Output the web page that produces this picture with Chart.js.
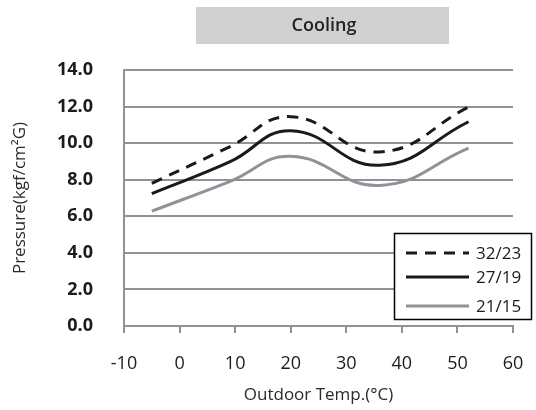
<!DOCTYPE html>
<html>
<head>
<meta charset="utf-8">
<script src="https://cdn.jsdelivr.net/npm/chart.js@4.4.1/dist/chart.umd.min.js"></script>
<style>
  html, body { margin: 0; padding: 0; background: #fff; }
  #wrap { width: 536px; height: 410px; }
</style>
</head>
<body>
<div id="wrap"><canvas id="coolingChart" width="536" height="410"></canvas></div>
<script>
// Datos (temperatura exterior en °C, presión en kgf/cm²G)
const tempPoints = [-5, 9, 20, 36, 52];
const press3223 = [7.8, 9.8, 11.45, 9.52, 11.98];
const press2719 = [7.24, 8.97, 10.68, 8.79, 11.17];
const press2115 = [6.28, 7.9, 9.28, 7.69, 9.73];
const seriesNames = ['32/23', '27/19', '21/15'];
const xTicks = [-10, 0, 10, 20, 30, 40, 50, 60];
const yTicks = [0, 2, 4, 6, 8, 10, 12, 14];

const FONT = "'Open Sans', 'Noto Sans', sans-serif";
const GRID = '#8d9398';
const INK = '#1c1c1c';

function toPoints(values) {
    return tempPoints.map((t, i) => ({ x: t, y: values[i] }));
}

// Caja gris del título y leyenda con borde, dibujadas a mano
const decorPlugin = {
    id: 'decor',
    afterDraw(chart) {
        const c = chart.ctx;
        c.save();
        // título
        c.fillStyle = '#d1d1d1';
        c.fillRect(196, 7, 253, 37);
        c.fillStyle = '#222';
        c.font = `600 18px ${FONT}`;
        c.textAlign = 'center';
        c.textBaseline = 'middle';
        c.fillText('Cooling', 324, 26);

        // leyenda
        c.fillStyle = '#fff';
        c.fillRect(394, 233, 138, 87);
        c.strokeStyle = '#000';
        c.lineWidth = 1.5;
        c.strokeRect(394.5, 233.5, 137, 86);
        const rows = [253, 277, 306];
        chart.data.datasets.forEach((ds, i) => {
            c.beginPath();
            c.strokeStyle = ds.borderColor;
            c.lineWidth = ds.borderWidth;
            c.setLineDash(ds.borderDash || []);
            c.moveTo(406, rows[i]);
            c.lineTo(469, rows[i]);
            c.stroke();
            c.setLineDash([]);
            c.fillStyle = INK;
            c.font = `17px ${FONT}`;
            c.textAlign = 'left';
            c.textBaseline = 'middle';
            c.fillText(ds.label, 476, rows[i] + 1);
        });
        c.restore();
    }
};

new Chart(document.getElementById('coolingChart'), {
    type: 'scatter',
    data: {
        datasets: [
            {
                label: seriesNames[0],
                data: toPoints(press3223),
                borderColor: '#1a1a1a',
                borderWidth: 3,
                borderDash: [11, 8]
            },
            {
                label: seriesNames[1],
                data: toPoints(press2719),
                borderColor: '#1a1a1a',
                borderWidth: 3
            },
            {
                label: seriesNames[2],
                data: toPoints(press2115),
                borderColor: '#8e9397',
                borderWidth: 3
            }
        ]
    },
    options: {
        responsive: false,
        animation: false,
        showLine: true,
        layout: { padding: { left: 0, top: 70, right: 23, bottom: 0 } },
        elements: {
            point: { radius: 0, hoverRadius: 0 },
            line: { tension: 0.45 }
        },
        plugins: {
            legend: { display: false },
            tooltip: { enabled: false }
        },
        scales: {
            x: {
                type: 'linear',
                min: -10,
                max: 60,
                afterBuildTicks: s => { s.ticks = xTicks.map(v => ({ value: v })); },
                // altura fija y sin margen extra por las etiquetas de los extremos
                afterFit: s => { s.height = 84; s.paddingLeft = 0; s.paddingRight = 0; },
                grid: { drawOnChartArea: false, drawTicks: true, tickLength: 7, color: GRID, lineWidth: 2 },
                border: { color: GRID, width: 2 },
                ticks: { color: INK, font: { family: FONT, size: 18 }, padding: 20, maxRotation: 0 },
                title: {
                    display: true,
                    text: 'Outdoor Temp.(°C)',
                    color: '#2a2a2a',
                    font: { family: FONT, size: 17 },
                    padding: { bottom: 5 }
                }
            },
            y: {
                min: 0,
                max: 14,
                afterBuildTicks: s => { s.ticks = yTicks.map(v => ({ value: v })); },
                afterFit: s => { s.width = 124; },
                grid: { drawTicks: false, color: GRID, lineWidth: 2 },
                border: { color: GRID, width: 2 },
                ticks: {
                    color: INK,
                    font: { family: FONT, size: 18, weight: 'bold' },
                    padding: 31,
                    callback: v => v.toFixed(1)
                },
                title: {
                    display: true,
                    text: 'Pressure(kgf/cm²G)',
                    color: '#2a2a2a',
                    font: { family: FONT, size: 17 },
                    padding: { top: 10 }
                }
            }
        }
    },
    plugins: [decorPlugin]
});
</script>
</body>
</html>
